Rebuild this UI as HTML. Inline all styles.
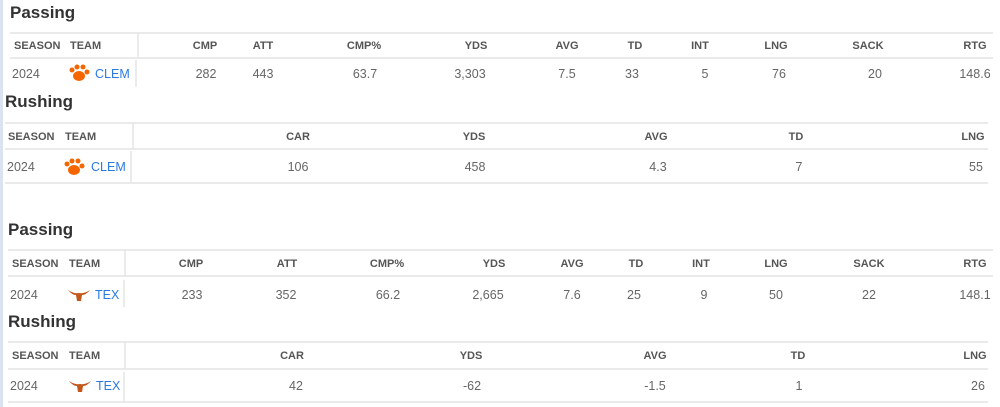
<!DOCTYPE html>
<html><head><meta charset="utf-8"><style>
html,body{margin:0;padding:0;background:#fff;width:1000px;height:407px;overflow:hidden}
svg{display:block}
.t{font:bold 17px "Liberation Sans",sans-serif;fill:#333}
.h{font:bold 11px "Liberation Sans",sans-serif;fill:#555;text-anchor:middle}
.hl{font:bold 11px "Liberation Sans",sans-serif;fill:#555}
.d{font:12.5px "Liberation Sans",sans-serif;fill:#666;text-anchor:middle}
.dl{font:12.5px "Liberation Sans",sans-serif;fill:#666}
.a{font:12.5px "Liberation Sans",sans-serif;fill:#2a7ae2}
line{stroke:#e4e4e4;stroke-width:1.5}
</style></head><body>
<svg width="1000" height="407" viewBox="0 0 1000 407">
<rect x="0" y="0" width="3" height="407" fill="#dbe3f0"/>
<!-- Passing 1 -->
<text class="t" x="10" y="18">Passing</text>
<line x1="10" y1="33" x2="993" y2="33"/><line x1="10" y1="58" x2="993" y2="58"/>
<line x1="138" y1="33" x2="138" y2="58"/><line x1="136" y1="60" x2="136" y2="87"/>
<text class="hl" x="14" y="49">SEASON</text><text class="hl" x="70" y="49">TEAM</text>
<text class="h" x="205" y="49">CMP</text><text class="h" x="263" y="49">ATT</text><text class="h" x="364" y="49">CMP%</text><text class="h" x="476" y="49">YDS</text><text class="h" x="567" y="49">AVG</text><text class="h" x="635" y="49">TD</text><text class="h" x="700" y="49">INT</text><text class="h" x="776" y="49">LNG</text><text class="h" x="868" y="49">SACK</text><text class="h" x="975" y="49">RTG</text>
<text class="dl" x="12" y="78">2024</text>
<g transform="translate(79,73)" fill="#f56600"><ellipse cx="0" cy="3" rx="6" ry="5"/><circle cx="-7" cy="-3" r="2.5"/><circle cx="-2" cy="-6" r="2.5"/><circle cx="4" cy="-6" r="2.5"/><circle cx="8" cy="-1" r="2.5"/></g>
<text class="a" x="95" y="78">CLEM</text>
<text class="d" x="206" y="78">282</text><text class="d" x="263" y="78">443</text><text class="d" x="365" y="78">63.7</text><text class="d" x="470" y="78">3,303</text><text class="d" x="567" y="78">7.5</text><text class="d" x="632" y="78">33</text><text class="d" x="705" y="78">5</text><text class="d" x="779" y="78">76</text><text class="d" x="875" y="78">20</text><text class="d" x="975" y="78">148.6</text>
<!-- Rushing 1 -->
<text class="t" x="5" y="107">Rushing</text>
<line x1="5" y1="123" x2="988" y2="123"/><line x1="5" y1="149" x2="988" y2="149"/><line x1="5" y1="183" x2="988" y2="183"/>
<line x1="133" y1="123" x2="133" y2="149"/><line x1="131" y1="151" x2="131" y2="183"/>
<text class="hl" x="8" y="140">SEASON</text><text class="hl" x="65" y="140">TEAM</text>
<text class="h" x="298" y="140">CAR</text><text class="h" x="474" y="140">YDS</text><text class="h" x="656" y="140">AVG</text><text class="h" x="796" y="140">TD</text><text class="h" x="973" y="140">LNG</text>
<text class="dl" x="7" y="171">2024</text>
<g transform="translate(74,167)" fill="#f56600"><ellipse cx="0" cy="3" rx="6" ry="5"/><circle cx="-7" cy="-3" r="2.5"/><circle cx="-2" cy="-6" r="2.5"/><circle cx="4" cy="-6" r="2.5"/><circle cx="8" cy="-1" r="2.5"/></g>
<text class="a" x="91" y="171">CLEM</text>
<text class="d" x="298" y="171">106</text><text class="d" x="475" y="171">458</text><text class="d" x="658" y="171">4.3</text><text class="d" x="799" y="171">7</text><text class="d" x="976" y="171">55</text>
<!-- Passing 2 -->
<text class="t" x="8" y="235">Passing</text>
<line x1="8" y1="250" x2="993" y2="250"/><line x1="8" y1="276" x2="993" y2="276"/>
<line x1="125" y1="250" x2="125" y2="276"/><line x1="124" y1="280" x2="124" y2="307"/>
<text class="hl" x="12" y="267">SEASON</text><text class="hl" x="69" y="267">TEAM</text>
<text class="h" x="191" y="267">CMP</text><text class="h" x="287" y="267">ATT</text><text class="h" x="387" y="267">CMP%</text><text class="h" x="494" y="267">YDS</text><text class="h" x="572" y="267">AVG</text><text class="h" x="636" y="267">TD</text><text class="h" x="701" y="267">INT</text><text class="h" x="776" y="267">LNG</text><text class="h" x="869" y="267">SACK</text><text class="h" x="975" y="267">RTG</text>
<text class="dl" x="10" y="299">2024</text>
<g transform="translate(79,294)" fill="#c4571c"><path d="M-11,-4 Q-5,0 0,-1 Q5,0 11,-4 Q7,1 3,1 L2,7 L-2,7 L-3,1 Q-7,1 -11,-4Z"/></g>
<text class="a" x="95" y="299">TEX</text>
<text class="d" x="192" y="299">233</text><text class="d" x="286" y="299">352</text><text class="d" x="388" y="299">66.2</text><text class="d" x="488" y="299">2,665</text><text class="d" x="572" y="299">7.6</text><text class="d" x="634" y="299">25</text><text class="d" x="704" y="299">9</text><text class="d" x="776" y="299">50</text><text class="d" x="869" y="299">22</text><text class="d" x="975" y="299">148.1</text>
<!-- Rushing 2 -->
<text class="t" x="8" y="327">Rushing</text>
<line x1="8" y1="342" x2="988" y2="342"/><line x1="8" y1="369" x2="988" y2="369"/><line x1="8" y1="402" x2="988" y2="402"/>
<line x1="125" y1="342" x2="125" y2="369"/><line x1="124" y1="372" x2="124" y2="402"/>
<text class="hl" x="12" y="359">SEASON</text><text class="hl" x="69" y="359">TEAM</text>
<text class="h" x="292" y="359">CAR</text><text class="h" x="471" y="359">YDS</text><text class="h" x="655" y="359">AVG</text><text class="h" x="798" y="359">TD</text><text class="h" x="975" y="359">LNG</text>
<text class="dl" x="10" y="390">2024</text>
<g transform="translate(80,385)" fill="#c4571c"><path d="M-11,-4 Q-5,0 0,-1 Q5,0 11,-4 Q7,1 3,1 L2,7 L-2,7 L-3,1 Q-7,1 -11,-4Z"/></g>
<text class="a" x="96" y="390">TEX</text>
<text class="d" x="296" y="390">42</text><text class="d" x="472" y="390">-62</text><text class="d" x="655" y="390">-1.5</text><text class="d" x="799" y="390">1</text><text class="d" x="978" y="390">26</text>
</svg>
</body></html>
